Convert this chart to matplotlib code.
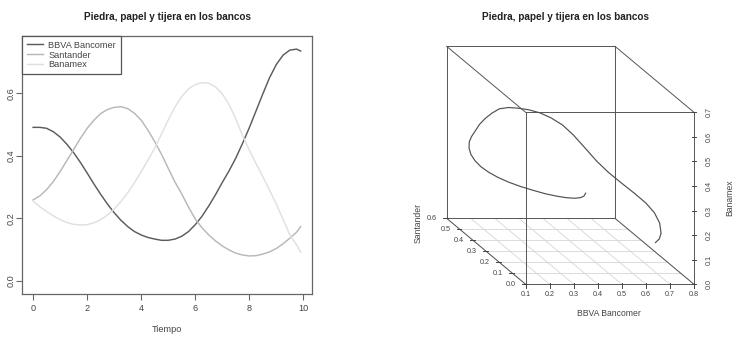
import matplotlib
matplotlib.use("Agg")
import matplotlib.pyplot as plt
import numpy as np

plt.rcParams["font.family"] = ["Liberation Sans", "DejaVu Sans"]

# tiempo y participaciones
tiempo = [0.0, 0.25, 0.5, 0.75, 1.0, 1.25, 1.5, 1.75, 2.0, 2.25,
          2.5, 2.75, 3.0, 3.25, 3.5, 3.75, 4.0, 4.25, 4.5, 4.75,
          5.0, 5.25, 5.5, 5.75, 6.0, 6.25, 6.5, 6.75, 7.0, 7.25,
          7.5, 7.75, 8.0, 8.25, 8.5, 8.75, 9.0, 9.25, 9.5, 9.75, 9.9]
bbva = [0.491, 0.491, 0.488, 0.477, 0.460, 0.437, 0.410, 0.379, 0.345, 0.310,
        0.277, 0.246, 0.218, 0.194, 0.174, 0.158, 0.147, 0.139, 0.134, 0.130,
        0.130, 0.134, 0.143, 0.158, 0.180, 0.207, 0.240, 0.276, 0.315, 0.352,
        0.393, 0.440, 0.490, 0.544, 0.598, 0.650, 0.692, 0.722, 0.738, 0.741, 0.735]
santander = [0.259, 0.272, 0.292, 0.318, 0.350, 0.385, 0.420, 0.456, 0.488, 0.514,
             0.535, 0.548, 0.555, 0.557, 0.551, 0.536, 0.514, 0.482, 0.445, 0.405,
             0.360, 0.316, 0.278, 0.236, 0.198, 0.170, 0.147, 0.128, 0.112, 0.099,
             0.089, 0.083, 0.080, 0.081, 0.086, 0.093, 0.104, 0.119, 0.137, 0.156, 0.174]
banamex = [0.255, 0.237, 0.222, 0.208, 0.196, 0.187, 0.181, 0.179, 0.180, 0.186,
           0.196, 0.211, 0.230, 0.254, 0.282, 0.314, 0.350, 0.386, 0.425, 0.470,
           0.515, 0.556, 0.590, 0.614, 0.628, 0.634, 0.632, 0.620, 0.598, 0.564,
           0.518, 0.465, 0.418, 0.375, 0.333, 0.290, 0.245, 0.197, 0.147, 0.115, 0.092]

series = [("BBVA Bancomer", bbva, "#5c5c5c"),
          ("Santander", santander, "#b8b8b8"),
          ("Banamex", banamex, "#e0e0e0")]

titulo = "Piedra, papel y tijera en los bancos"
x_ticks = [0, 2, 4, 6, 8, 10]
y_ticks = [0.0, 0.2, 0.4, 0.6]
ticks3d_x = [0.1, 0.2, 0.3, 0.4, 0.5, 0.6, 0.7, 0.8]
ticks3d_y = [0.0, 0.1, 0.2, 0.3, 0.4, 0.5, 0.6]
ticks3d_z = [0.0, 0.1, 0.2, 0.3, 0.4, 0.5, 0.6, 0.7]

W, H = 736, 341
fig = plt.figure(figsize=(W / 100, H / 100), dpi=100)
fig.patch.set_facecolor("white")

txt = "#444444"
box = "#666666"

# --------------------------------------------------
# Izquierda: series de tiempo
# --------------------------------------------------
ax = fig.add_axes([22.3 / W, 1 - 294 / H, 290 / W, 258 / H])
for name, vals, col in series:
    ax.plot(tiempo, vals, color=col, lw=1.05, label=name)
ax.set_xlim(-0.4, 10.33)
ax.set_ylim(-0.0416, 0.783)
ax.set_xticks(x_ticks)
ax.set_xticklabels([str(v) for v in x_ticks])
ax.set_yticks(y_ticks)
ax.set_yticklabels([f"{v:.1f}" for v in y_ticks], rotation=90, va="center")
ax.tick_params(axis="both", colors=box, labelcolor=txt, labelsize=6.6,
               length=4.3, width=0.8, direction="out")
ax.tick_params(axis="x", pad=3)
ax.tick_params(axis="y", pad=0.6)
for s in ax.spines.values():
    s.set_color(box)
    s.set_linewidth(0.9)
leg = ax.legend(loc="upper left", bbox_to_anchor=(0, 1), borderaxespad=0,
                fancybox=False, framealpha=1, edgecolor="#555555", fontsize=6.6,
                handlelength=1.75, handletextpad=0.6, labelspacing=0.1,
                borderpad=0.5)
leg.get_frame().set_linewidth(0.9)
for t in leg.get_texts():
    t.set_color(txt)

fig.text(167 / W, 1 - 17 / H, titulo, ha="center", va="center",
         fontsize=7.2, fontweight="bold", color="#222222")
fig.text(167 / W, 1 - 329 / H, "Tiempo", ha="center", va="center",
         fontsize=6.6, color=txt)

# --------------------------------------------------
# Derecha: trayectoria 3D (proyeccion oblicua como scatterplot3d)
# --------------------------------------------------
ax2 = fig.add_axes([370 / W, 0, 366 / W, 1])
ax2.axis("off")
sx, sz = 240.5, 245.7          # px por unidad en x y z
cx, cz = -131.67 / sx, 110.0 / sz
ax2.set_xlim((370 - 525.67) / sx, (736 - 525.67) / sx)
ax2.set_ylim((284.33 - 341) / sz, 284.33 / sz)


def proj(x, y, z):
    x, y, z = np.asarray(x, float), np.asarray(y, float), np.asarray(z, float)
    return (x - 0.1) + y * cx, z + y * cz


def seg(p, q, **kw):
    u, w = proj([p[0], q[0]], [p[1], q[1]], [p[2], q[2]])
    ax2.plot(u, w, **kw)


# rejilla en el plano z = 0
for xv in ticks3d_x:
    seg((xv, 0, 0), (xv, 0.6, 0), color="#d6d6d6", lw=0.6)
for yv in ticks3d_y:
    seg((0.1, yv, 0), (0.8, yv, 0), color="#d6d6d6", lw=0.6)

# caja
edge = dict(color="#555555", lw=0.7)
for yv in (0.0, 0.6):
    seg((0.1, yv, 0), (0.8, yv, 0), **edge)
    seg((0.1, yv, 0.7), (0.8, yv, 0.7), **edge)
    seg((0.1, yv, 0), (0.1, yv, 0.7), **edge)
    seg((0.8, yv, 0), (0.8, yv, 0.7), **edge)
for xv in (0.1, 0.8):
    for zv in (0.0, 0.7):
        seg((xv, 0, zv), (xv, 0.6, zv), **edge)

# trayectoria
u, w = proj(bbva, santander, banamex)
ax2.plot(u, w, color="#505050", lw=0.85)

# ejes y etiquetas
tk = 3.3
for xv in ticks3d_x:
    u0, w0 = proj(xv, 0, 0)
    ax2.plot([u0, u0], [w0 + 1.5 / sz, w0 - tk / sz], color="#444444", lw=0.7)
    ax2.text(u0, (284.33 - 294.5) / sz, f"{xv:.1f}", ha="center", va="center",
             fontsize=5.2, color=txt)
for yv in ticks3d_y:
    u0, w0 = proj(0.1, yv, 0)
    ax2.plot([u0 - tk / sx, u0 + 1.5 / sx], [w0, w0], color="#444444", lw=0.7)
    ax2.text(u0 - 14.5 / sx, w0, f"{yv:.1f}", ha="center", va="center",
             fontsize=5.2, color=txt)
for zv in ticks3d_z:
    u0, w0 = proj(0.8, 0, zv)
    ax2.plot([u0 - 2 / sx, u0 + 2 / sx], [w0, w0], color="#444444", lw=0.7)
    ax2.text(u0 + 15.3 / sx, w0, f"{zv:.1f}", ha="center", va="center",
             rotation=90, fontsize=5.2, color=txt)

ax2.text((609 - 525.67) / sx, (284.33 - 314) / sz, "BBVA Bancomer",
         ha="center", va="center", fontsize=6.2, color=txt)
ax2.text((418.3 - 525.67) / sx, (284.33 - 223) / sz, "Santander",
         ha="center", va="center", rotation=90, fontsize=6.2, color=txt)
ax2.text((730 - 525.67) / sx, (284.33 - 198) / sz, "Banamex",
         ha="center", va="center", rotation=90, fontsize=6.2, color=txt)

fig.text(565.7 / W, 1 - 16.7 / H, titulo, ha="center", va="center",
         fontsize=7.2, fontweight="bold", color="#222222")

fig.savefig("out.png", dpi=100)
